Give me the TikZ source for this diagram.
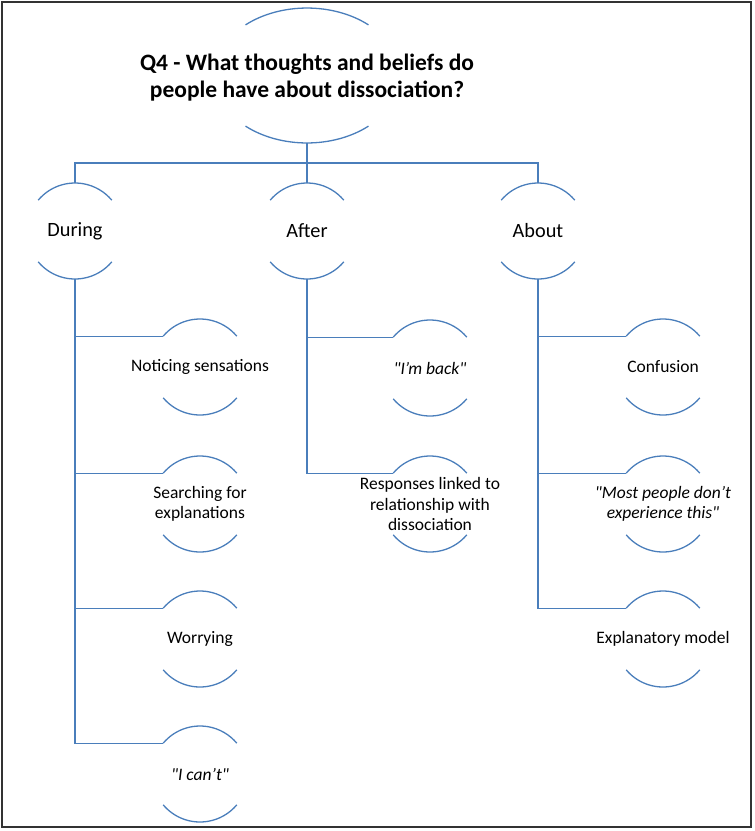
\documentclass[tikz,border=0pt]{standalone}
\usepackage{fontspec}
\setmainfont{Carlito}
\usepackage{tikz}
\usetikzlibrary{shapes,positioning,shapes.geometric}
\definecolor{linec}{RGB}{74,126,187}

\begin{document}
\begin{tikzpicture}[x=1pt, y=1pt,
    font=\fontsize{17.5}{20.5}\selectfont,
    branch/.style={draw=linec, line width=1.3pt},
    bubble/.style={circle, minimum size=96pt, inner sep=0pt, outer sep=0pt},
    group/.style={font=\fontsize{20.3}{24}\selectfont},
    every label/.style={align=center}]
\useasboundingbox (0,0) rectangle (755,-831);
\draw[line width=1.3pt, draw=black!80] (2,-2) rectangle (751,-827);

\node[ellipse, minimum width=186pt, minimum height=135pt, inner sep=0pt, outer sep=0pt,
    label={[font=\bfseries\fontsize{23.5}{27}\selectfont, yshift=-2pt]center:Q4 - What thoughts and beliefs do\\people have about dissociation?}]
    (question) at (307,-75.5) {};

\node[bubble, label={[group]center:During}] (during) at (75,-231) {};
\node[bubble, label={[group]center:After}] (after) at (307,-231) {};
\node[bubble, label={[group]center:About}] (about) at (538,-231) {};

\node[bubble, label=center:Noticing sensations] (noticing) at (200,-367) {};
\node[bubble, label={center:Searching for\\explanations}] (searching) at (200,-504) {};
\node[bubble, label=center:Worrying] (worrying) at (200,-639) {};
\node[bubble, label={center:\textit{\textquotedbl I can't\textquotedbl}}] (icant) at (200,-774) {};

\node[bubble, label={center:\textit{\textquotedbl I'm back\textquotedbl}}] (back) at (430,-368) {};
\node[bubble, label={center:Responses linked to\\relationship with\\dissociation}] (responses) at (430,-504) {};

\node[bubble, label=center:Confusion] (confusion) at (663,-367) {};
\node[bubble, label={center:\textit{\textquotedbl Most people don't}\\\textit{experience this\textquotedbl}}] (most) at (663,-504) {};
\node[bubble, label=center:Explanatory model] (explanatory) at (663,-639) {};

% open caps of each bubble
\draw[branch] ([shift={(-61.5,50.6)}]question.center) arc[start angle=131.4, end angle=48.6, x radius=93, y radius=67.5]
    ([shift={(-61.5,-50.6)}]question.center) arc[start angle=228.6, end angle=311.4, x radius=93, y radius=67.5];
\foreach \n in {during,after,about,noticing,searching,worrying,icant,back,responses,confusion,most,explanatory}
    \draw[branch] (\n.140) arc[start angle=140, end angle=40, radius=48]
        (\n.220) arc[start angle=220, end angle=320, radius=48];

\draw[branch] (question.south) -- ++(0,-20) -| (during.north);
\draw[branch] (question.south) -- ++(0,-20) -| (about.north);
\draw[branch] (question.south) -- (after.north);

\foreach \leaf in {noticing,searching,worrying,icant}
    \draw[branch] (during.south) |- (\leaf.140);
\foreach \leaf in {back,responses}
    \draw[branch] (after.south) |- (\leaf.140);
\foreach \leaf in {confusion,most,explanatory}
    \draw[branch] (about.south) |- (\leaf.140);
\end{tikzpicture}
\end{document}
